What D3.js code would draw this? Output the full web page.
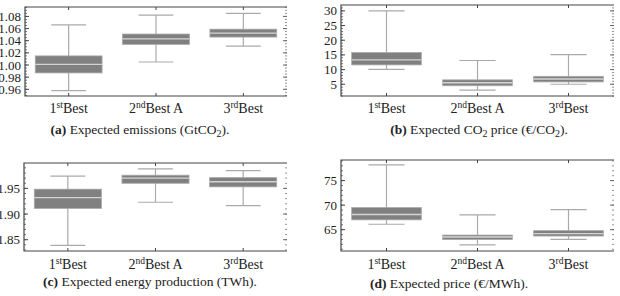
<!DOCTYPE html>
<html>
<head>
<meta charset="utf-8">
<title>Box plots</title>
<script src="https://d3js.org/d3.v7.min.js"></script>
<style>
  body { margin: 0; background: #fff; }
  svg { display: block; font-family: "Liberation Serif", "DejaVu Serif", serif; }
</style>
</head>
<body>
<div id="chart"></div>
<script>
// categories (ordinal number, superscript, name)
var catNum = ["1", "2", "3"];
var catSup = ["st", "nd", "rd"];
var catName = ["Best", "Best A", "Best"];

// box statistics per category: [min, q1, median, q3, max]
var emissions = [[0.958, 0.987, 1.001, 1.015, 1.066],
                 [1.005, 1.034, 1.043, 1.051, 1.082],
                 [1.031, 1.046, 1.0525, 1.059, 1.085]];
var co2Price = [[10.1, 11.6, 13.3, 15.8, 30.0],
                [3.0, 4.5, 5.5, 6.5, 13.1],
                [5.0, 5.8, 6.8, 7.7, 15.1]];
var energy = [[1.839, 1.911, 1.932, 1.9485, 1.974],
              [1.923, 1.960, 1.970, 1.9757, 1.988],
              [1.9166, 1.953, 1.963, 1.971, 1.9846]];
var price = [[66.1, 67.0, 68.1, 69.5, 78.2],
             [61.9, 63.0, 63.5, 63.9, 68.0],
             [63.0, 63.7, 64.2, 64.8, 69.1]];

// tick labels
var emissionsTicks = [0.96, 0.98, 1.00, 1.02, 1.04, 1.06, 1.08];
var co2Ticks = [5, 10, 15, 20, 25, 30];
var energyTicks = [1.85, 1.90, 1.95];
var priceTicks = [65, 70, 75];

var W = 620, H = 296;
var svg = d3.select("#chart").append("svg").attr("width", W).attr("height", H);

var panels = [
  {data: emissions, ticks: emissionsTicks, fmt: ".2f", minor: 0.005, domain: [0.949, 1.0955],
   x0: 25, x1: 287, y0: 7, y1: 96, catY: 112.5, capX: 140, capY: 133.5,
   cap: [["(a)", true], [" Expected emissions (GtCO"], ["2", false, "sub"], [")."]]},
  {data: co2Price, ticks: co2Ticks, fmt: "d", minor: 1, domain: [1.0, 32.0],
   x0: 341, x1: 614, y0: 5, y1: 96, catY: 112.5, capX: 479, capY: 134,
   cap: [["(b)", true], [" Expected CO"], ["2", false, "sub"], [" price (\u20AC/CO"], ["2", false, "sub"], [")."]]},
  {data: energy, ticks: energyTicks, fmt: ".2f", minor: 0.01, domain: [1.828, 1.9995],
   x0: 24, x1: 287, y0: 163, y1: 251, catY: 268.5, capX: 150, capY: 285.5,
   cap: [["(c)", true], [" Expected energy production (TWh)."]]},
  {data: price, ticks: priceTicks, fmt: "d", minor: 1, domain: [60.65, 79.2],
   x0: 341, x1: 614, y0: 160, y1: 251, catY: 269, capX: 449, capY: 287.5,
   cap: [["(d)", true], [" Expected price (\u20AC/MWh)."]]}
];

panels.forEach(function(p) {
  var g = svg.append("g");

  var x = d3.scalePoint().domain(catNum).range([p.x0, p.x1]).padding(0.5);
  var y = d3.scaleLinear().domain(p.domain).range([p.y1, p.y0]);
  var boxW = x.step() * 0.765;
  var capW = boxW * 0.52;

  // minor ticks left and right
  var minorVals = d3.range(Math.ceil(p.domain[0] / p.minor) * p.minor, p.domain[1], p.minor);
  g.selectAll(".mnl").data(minorVals).enter().append("line")
    .attr("x1", p.x0).attr("x2", p.x0 + 2)
    .attr("y1", function(d) { return y(d); }).attr("y2", function(d) { return y(d); })
    .attr("stroke", "#555").attr("stroke-width", 0.8);
  g.selectAll(".mnr").data(minorVals).enter().append("line")
    .attr("x1", p.x1).attr("x2", p.x1 - 2)
    .attr("y1", function(d) { return y(d); }).attr("y2", function(d) { return y(d); })
    .attr("stroke", "#777").attr("stroke-width", 0.8);

  // major ticks
  g.selectAll(".mj").data(p.ticks).enter().append("line")
    .attr("x1", p.x0).attr("x2", p.x0 + 4)
    .attr("y1", function(d) { return y(d); }).attr("y2", function(d) { return y(d); })
    .attr("stroke", "#444").attr("stroke-width", 1);
  g.selectAll(".mjr").data(p.ticks).enter().append("line")
    .attr("x1", p.x1).attr("x2", p.x1 - 4)
    .attr("y1", function(d) { return y(d); }).attr("y2", function(d) { return y(d); })
    .attr("stroke", "#666").attr("stroke-width", 1);

  // tick labels
  g.selectAll(".tl").data(p.ticks).enter().append("text")
    .attr("x", p.x0 - 4).attr("y", function(d) { return y(d); })
    .attr("dy", "0.35em").attr("text-anchor", "end")
    .style("font-size", "13px").attr("fill", "#222")
    .text(function(d) { return d3.format(p.fmt)(d); });

  // frame (left, top, bottom)
  g.append("path")
    .attr("d", "M" + p.x1 + "," + p.y0 + "H" + p.x0 + "V" + p.y1 + "H" + p.x1)
    .attr("fill", "none").attr("stroke", "#444").attr("stroke-width", 1.2);

  // category ticks top and bottom
  g.selectAll(".ct").data(catNum).enter().append("line")
    .attr("x1", function(d) { return x(d); }).attr("x2", function(d) { return x(d); })
    .attr("y1", p.y0).attr("y2", p.y0 + 3).attr("stroke", "#444");
  g.selectAll(".cb").data(catNum).enter().append("line")
    .attr("x1", function(d) { return x(d); }).attr("x2", function(d) { return x(d); })
    .attr("y1", p.y1).attr("y2", p.y1 - 3).attr("stroke", "#444");

  // boxes
  var box = g.selectAll(".box").data(p.data).enter().append("g")
    .attr("transform", function(d, i) { return "translate(" + x(catNum[i]) + ",0)"; });

  box.append("line").attr("x1", 0).attr("x2", 0)
    .attr("y1", function(d) { return y(d[0]); }).attr("y2", function(d) { return y(d[4]); })
    .attr("stroke", "#aaa").attr("stroke-width", 1.2);
  box.append("line").attr("x1", -capW / 2).attr("x2", capW / 2)
    .attr("y1", function(d) { return y(d[4]); }).attr("y2", function(d) { return y(d[4]); })
    .attr("stroke", "#aaa").attr("stroke-width", 1.2);
  box.append("line").attr("x1", -capW / 2).attr("x2", capW / 2)
    .attr("y1", function(d) { return y(d[0]); }).attr("y2", function(d) { return y(d[0]); })
    .attr("stroke", "#aaa").attr("stroke-width", 1.2);
  box.append("rect")
    .attr("x", -boxW / 2).attr("width", boxW)
    .attr("y", function(d) { return y(d[3]); })
    .attr("height", function(d) { return y(d[1]) - y(d[3]); })
    .attr("fill", "#808080").attr("stroke", "#a8a8a8").attr("stroke-width", 0.8);
  box.append("line").attr("x1", -boxW / 2).attr("x2", boxW / 2)
    .attr("y1", function(d) { return y(d[2]); }).attr("y2", function(d) { return y(d[2]); })
    .attr("stroke", "#d4d4d4").attr("stroke-width", 1.4);

  // category labels
  var cl = g.selectAll(".cl").data(catNum).enter().append("text")
    .attr("x", function(d) { return x(d); }).attr("y", p.catY)
    .attr("text-anchor", "middle").style("font-size", "14px").attr("fill", "#222");
  cl.append("tspan").text(function(d) { return d; });
  cl.append("tspan").attr("dy", -5).style("font-size", "9.5px")
    .text(function(d, i) { return catSup[i]; });
  cl.append("tspan").attr("dy", 5).text(function(d, i) { return catName[i]; });

  // caption
  var cap = g.append("text").attr("x", p.capX).attr("y", p.capY)
    .attr("text-anchor", "middle").style("font-size", "13.5px").attr("fill", "#222");
  var shift = 0;
  p.cap.forEach(function(c) {
    var t = cap.append("tspan").text(c[0]);
    if (c[1]) t.style("font-weight", "bold");
    if (c[2] === "sub") { t.attr("dy", 3).style("font-size", "10px"); shift = 3; }
    else if (shift) { t.attr("dy", -shift); shift = 0; }
  });
});
</script>
</body>
</html>
